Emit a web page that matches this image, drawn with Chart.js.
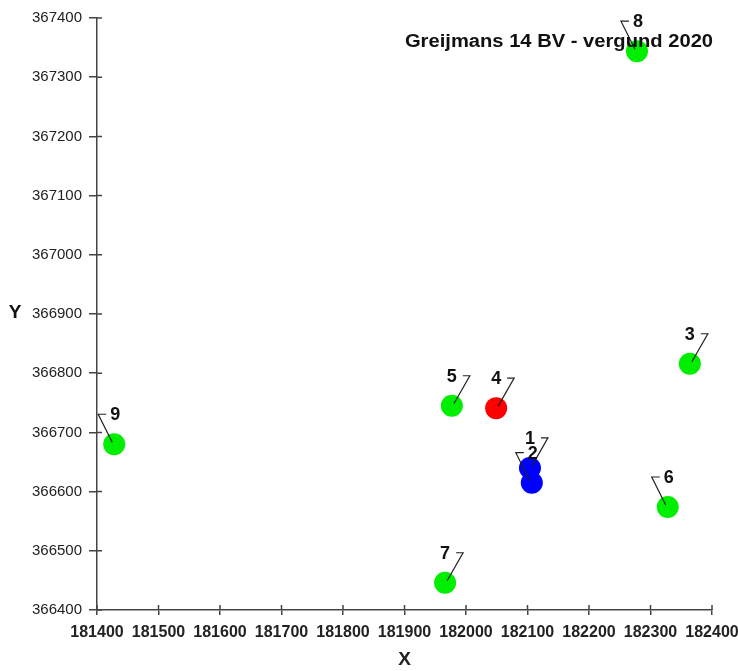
<!DOCTYPE html>
<html>
<head>
<meta charset="utf-8">
<script src="https://cdn.jsdelivr.net/npm/chart.js@4.4.0/dist/chart.umd.min.js"></script>
<style>
  html, body { margin: 0; padding: 0; background: #fff; }
  #wrap { width: 738px; height: 671px; }
</style>
</head>
<body>
<div id="wrap"><canvas id="chart" width="738" height="671"></canvas></div>
<script>
// --- data ---
const pointIds = ['1', '2', '3', '4', '5', '6', '7', '8', '9'];
const xValues = [182104, 182107, 182364, 182049, 181977, 182328, 181966, 182278, 181428];
const yValues = [366640, 366615, 366816, 366741, 366745, 366574, 366446, 367344, 366680];
const xTicks = [181400, 181500, 181600, 181700, 181800, 181900, 182000, 182100, 182200, 182300, 182400];
const yTicks = [366400, 366500, 366600, 366700, 366800, 366900, 367000, 367100, 367200, 367300, 367400];
const chartTitle = 'Greijmans 14 BV - vergund 2020';

// styling per point (colour + which side the label sits)
const pointColors = ['#0000ff', '#0000ff', '#00ee00', '#ff0000', '#00ee00', '#00ee00', '#00ee00', '#00ee00', '#00ee00'];
const labelSide = [1, -1, 1, 1, 1, -1, 1, -1, -1];

const axisColor = '#444';
const fontFamily = '"Liberation Sans", Arial, sans-serif';

// labels with the little "7" leader lines, inner tick stubs, title, Y label
const annotations = {
    id: 'annotations',
    afterDatasetsDraw(chart) {
        const ctx = chart.ctx;
        const area = chart.chartArea;
        ctx.save();

        // tick marks poke a bit into the plot as well
        ctx.strokeStyle = axisColor;
        ctx.lineWidth = 1.5;
        ctx.beginPath();
        xTicks.forEach(v => {
            const px = chart.scales.x.getPixelForValue(v);
            ctx.moveTo(px, area.bottom);
            ctx.lineTo(px, area.bottom - 5);
        });
        yTicks.forEach(v => {
            const py = chart.scales.y.getPixelForValue(v);
            ctx.moveTo(area.left, py);
            ctx.lineTo(area.left + 5, py);
        });
        ctx.stroke();

        const meta = chart.getDatasetMeta(0);
        meta.data.forEach((pt, i) => {
            const cx = pt.x, cy = pt.y;
            const s = labelSide[i];
            const barY = cy - 30;
            const barNear = s > 0 ? cx + 11 : cx - 8;
            const barFar = s > 0 ? cx + 18 : cx - 16;
            ctx.strokeStyle = '#222';
            ctx.lineWidth = 1.2;
            ctx.beginPath();
            ctx.moveTo(barNear, barY);
            ctx.lineTo(barFar, barY);
            ctx.lineTo(cx + 2 * s, cy - 2);
            ctx.stroke();
            ctx.fillStyle = '#111';
            ctx.font = 'bold 18px ' + fontFamily;
            ctx.textAlign = 'center';
            ctx.textBaseline = 'middle';
            ctx.fillText(pointIds[i], s > 0 ? cx : cx + 1, barY + 1);
        });

        // title inside plot area, slightly stretched like the original
        ctx.fillStyle = '#111';
        ctx.font = 'bold 18px ' + fontFamily;
        ctx.textAlign = 'center';
        ctx.textBaseline = 'middle';
        ctx.save();
        ctx.translate(559, 42);
        ctx.scale(1.12, 1);
        ctx.fillText(chartTitle, 0, 0);
        ctx.restore();

        // horizontal Y axis label
        ctx.font = 'bold 19px ' + fontFamily;
        ctx.fillText('Y', 15, 313);
        ctx.restore();
    }
};

const ctx = document.getElementById('chart').getContext('2d');

new Chart(ctx, {
    type: 'scatter',
    data: {
        datasets: [{
            data: xValues.map((x, i) => ({ x: x, y: yValues[i] })),
            backgroundColor: pointColors,
            borderColor: pointColors,
            pointRadius: 11,
            pointHoverRadius: 11,
            borderWidth: 0
        }]
    },
    options: {
        responsive: false,
        animation: false,
        layout: { padding: { top: 18, right: 26, left: 0, bottom: 0 } },
        plugins: {
            legend: { display: false },
            tooltip: { enabled: false }
        },
        scales: {
            x: {
                type: 'linear',
                min: xTicks[0],
                max: xTicks[xTicks.length - 1],
                afterBuildTicks: scale => { scale.ticks = xTicks.map(v => ({ value: v })); },
                afterFit: scale => { scale.height = 61; scale.paddingLeft = 0; scale.paddingRight = 0; },
                ticks: {
                    color: '#222',
                    font: { family: fontFamily, size: 16, weight: 'bold' },
                    padding: 8,
                    maxRotation: 0,
                    autoSkip: false,
                    callback: v => String(v)
                },
                grid: { drawOnChartArea: false, drawTicks: true, tickLength: 5, color: axisColor, lineWidth: 1.5 },
                border: { color: axisColor, width: 1.5 },
                title: {
                    display: true,
                    text: 'X',
                    color: '#222',
                    font: { family: fontFamily, size: 19, weight: 'bold' },
                    padding: { top: 9, bottom: 0 }
                }
            },
            y: {
                type: 'linear',
                min: yTicks[0],
                max: yTicks[yTicks.length - 1],
                afterBuildTicks: scale => { scale.ticks = yTicks.map(v => ({ value: v })); },
                afterFit: scale => { scale.width = 97; scale.paddingTop = 0; scale.paddingBottom = 0; },
                ticks: {
                    color: '#222',
                    font: { family: fontFamily, size: 15, weight: 'normal' },
                    padding: 7,
                    autoSkip: false,
                    callback: v => String(v)
                },
                grid: { drawOnChartArea: false, drawTicks: true, tickLength: 8, color: axisColor, lineWidth: 1.5 },
                border: { color: axisColor, width: 1.5 }
            }
        }
    },
    plugins: [annotations]
});
</script>
</body>
</html>
